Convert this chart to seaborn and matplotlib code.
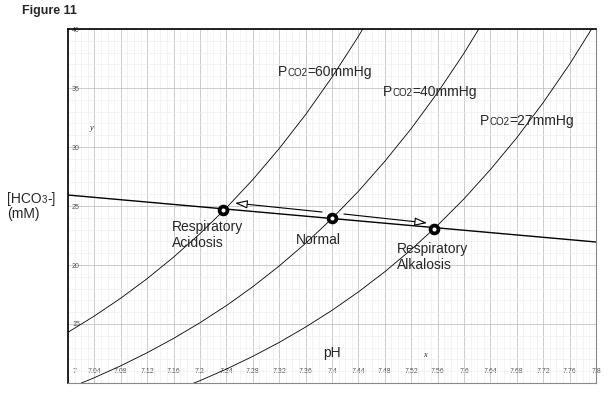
import matplotlib
matplotlib.use("Agg")
import matplotlib.pyplot as plt
import seaborn as sns
import pandas as pd
from matplotlib.offsetbox import TextArea, HPacker, AnnotationBbox
from matplotlib.ticker import MultipleLocator
from matplotlib.transforms import ScaledTranslation

# ---------------- data ----------------
ph_60 = [7.00, 7.04, 7.08, 7.12, 7.16, 7.20, 7.24, 7.28, 7.32, 7.36, 7.40, 7.44, 7.48]
hco3_60 = [14.30, 15.68, 17.19, 18.85, 20.67, 22.66, 24.85, 27.24, 29.87, 32.75, 35.92, 39.38, 43.18]

ph_40 = [7.00, 7.04, 7.08, 7.12, 7.16, 7.20, 7.24, 7.28, 7.32, 7.36, 7.40, 7.44,
         7.48, 7.52, 7.56, 7.60, 7.64]
hco3_40 = [9.53, 10.45, 11.46, 12.57, 13.78, 15.11, 16.56, 18.16, 19.92, 21.84, 23.94, 26.25,
           28.79, 31.56, 34.61, 37.95, 41.61]

ph_27 = [7.00, 7.04, 7.08, 7.12, 7.16, 7.20, 7.24, 7.28, 7.32, 7.36, 7.40, 7.44,
         7.48, 7.52, 7.56, 7.60, 7.64, 7.68, 7.72, 7.76, 7.80]
hco3_27 = [6.43, 7.06, 7.74, 8.48, 9.30, 10.20, 11.18, 12.26, 13.44, 14.74, 16.16, 17.72,
           19.43, 21.31, 23.36, 25.61, 28.09, 30.79, 33.77, 37.02, 40.60]

buffer_ph = [7.00, 7.80]
buffer_hco3 = [25.93, 21.95]

state_names = ["Respiratory\nAcidosis", "Normal", "Respiratory\nAlkalosis"]
state_ph = [7.235, 7.40, 7.555]
state_hco3 = [24.65, 24.0, 23.05]

arrow_start_ph = [7.385, 7.418]
arrow_start_hco3 = [24.49, 24.32]
arrow_end_ph = [7.253, 7.544]
arrow_end_hco3 = [25.25, 23.56]

pco2_values = ["60", "40", "27"]

x_ticks = [7.00, 7.04, 7.08, 7.12, 7.16, 7.20, 7.24, 7.28, 7.32, 7.36, 7.40,
           7.44, 7.48, 7.52, 7.56, 7.60, 7.64, 7.68, 7.72, 7.76, 7.80]
x_tick_labels = ["7", "7.04", "7.08", "7.12", "7.16", "7.2", "7.24", "7.28", "7.32", "7.36", "7.4",
                 "7.44", "7.48", "7.52", "7.56", "7.6", "7.64", "7.68", "7.72", "7.76", "7.8"]
y_ticks = [15, 20, 25, 30, 35, 40]
y_tick_labels = ["15", "20", "25", "30", "35", "40"]

# ---------------- style ----------------
sns.set_style("white")
plt.rcParams["font.family"] = ["Liberation Sans", "DejaVu Sans"]

fig, ax = plt.subplots(figsize=(6.09, 3.98), dpi=100)
fig.subplots_adjust(left=0.1117, right=0.9787, bottom=0.0377, top=0.9271)

curves = pd.concat([
    pd.DataFrame({"pH": ph_60, "HCO3": hco3_60, "PCO2": "60"}),
    pd.DataFrame({"pH": ph_40, "HCO3": hco3_40, "PCO2": "40"}),
    pd.DataFrame({"pH": ph_27, "HCO3": hco3_27, "PCO2": "27"}),
])
for p in pco2_values:
    sub = curves[curves["PCO2"] == p]
    sns.lineplot(data=sub, x="pH", y="HCO3", sort=False, estimator=None,
                 color="black", lw=0.6, ax=ax, zorder=3)

sns.lineplot(x=buffer_ph, y=buffer_hco3, color="black", lw=1.0, ax=ax, zorder=3)

for xs, ys, xe, ye in zip(arrow_start_ph, arrow_start_hco3, arrow_end_ph, arrow_end_hco3):
    ax.annotate("", xy=(xe, ye), xytext=(xs, ys),
                arrowprops=dict(arrowstyle="-|>,head_length=0.75,head_width=0.25",
                                fc="white", ec="black", lw=0.8,
                                shrinkA=0, shrinkB=0, mutation_scale=10),
                zorder=4)

sns.scatterplot(x=state_ph, y=state_hco3, marker="o", s=32, facecolor="white",
                edgecolor="black", linewidth=2.7, ax=ax, zorder=5)

ax.set_xlim(7.0, 7.8)
ax.set_ylim(10, 40)
ax.set_xticks(x_ticks)
ax.set_xticklabels(x_tick_labels)
ax.set_yticks(y_ticks)
ax.set_yticklabels(y_tick_labels)
ax.xaxis.set_minor_locator(MultipleLocator(0.01))
ax.yaxis.set_minor_locator(MultipleLocator(1))
ax.grid(which="major", color="#c4c4c4", lw=0.6)
ax.grid(which="minor", color="#eeeeee", lw=0.5)
ax.set_axisbelow(True)
ax.tick_params(which="both", length=0)
ax.tick_params(axis="x", pad=-10.5, labelsize=5, labelcolor="#555555")
ax.tick_params(axis="y", pad=-8.6, labelsize=5, labelcolor="#555555")
ax.set_xlabel("")
ax.set_ylabel("")

# first x tick label sits a little inside the frame
first = ax.xaxis.get_major_ticks()[0].label1
first.set_transform(first.get_transform() + ScaledTranslation(5 / 72, 0, fig.dpi_scale_trans))

for side in ["top", "left"]:
    ax.spines[side].set_color("black")
    ax.spines[side].set_linewidth(1.2)
for side in ["bottom", "right"]:
    ax.spines[side].set_color("#888888")
    ax.spines[side].set_linewidth(0.8)

# PCO2 labels
label_pos = {"60": (7.389, 36.36), "40": (7.548, 34.66), "27": (7.695, 32.2)}
for p in pco2_values:
    box = HPacker(children=[TextArea("P", textprops=dict(size=10)),
                            TextArea("CO2", textprops=dict(size=7)),
                            TextArea("=" + p + "mmHg", textprops=dict(size=10))],
                  align="baseline", pad=0, sep=0)
    ab = AnnotationBbox(box, label_pos[p], xycoords="data", frameon=False,
                        box_alignment=(0.5, 0.5), zorder=6)
    ax.add_artist(ab)

# state labels
ax.text(7.158, 21.53, state_names[0], fontsize=10, ha="left", va="baseline", zorder=6)
ax.text(7.3795, 21.78, state_names[1], fontsize=10, ha="center", va="baseline", zorder=6)
ax.text(7.4985, 19.66, state_names[2], fontsize=10, ha="left", va="baseline", zorder=6)

ax.text(7.40, 12.2, "pH", fontsize=10, ha="center", va="baseline", zorder=6)
ax.text(7.541, 12.37, "x", fontsize=6, ha="center", va="center", style="italic",
        family=["Liberation Serif", "DejaVu Serif"], zorder=6)
ax.text(7.036, 31.6, "y", fontsize=6, ha="center", va="center", style="italic",
        family=["Liberation Serif", "DejaVu Serif"], zorder=6)

# outside texts
fig.text(0.0361, 0.9648, "Figure 11", fontsize=9, fontweight="bold", ha="left", va="baseline")
hbox = HPacker(children=[TextArea("[HCO", textprops=dict(size=10)),
                         TextArea("3", textprops=dict(size=7)),
                         TextArea("-]", textprops=dict(size=10))],
               align="baseline", pad=0, sep=0)
ab = AnnotationBbox(hbox, (7 / 609, 0.49), xycoords="figure fraction", frameon=False,
                    box_alignment=(0.0, 0.2))
fig.add_artist(ab)
fig.text(7 / 609, 0.4523, "(mM)", fontsize=10, ha="left", va="baseline")

fig.savefig("out.png", dpi=100)
